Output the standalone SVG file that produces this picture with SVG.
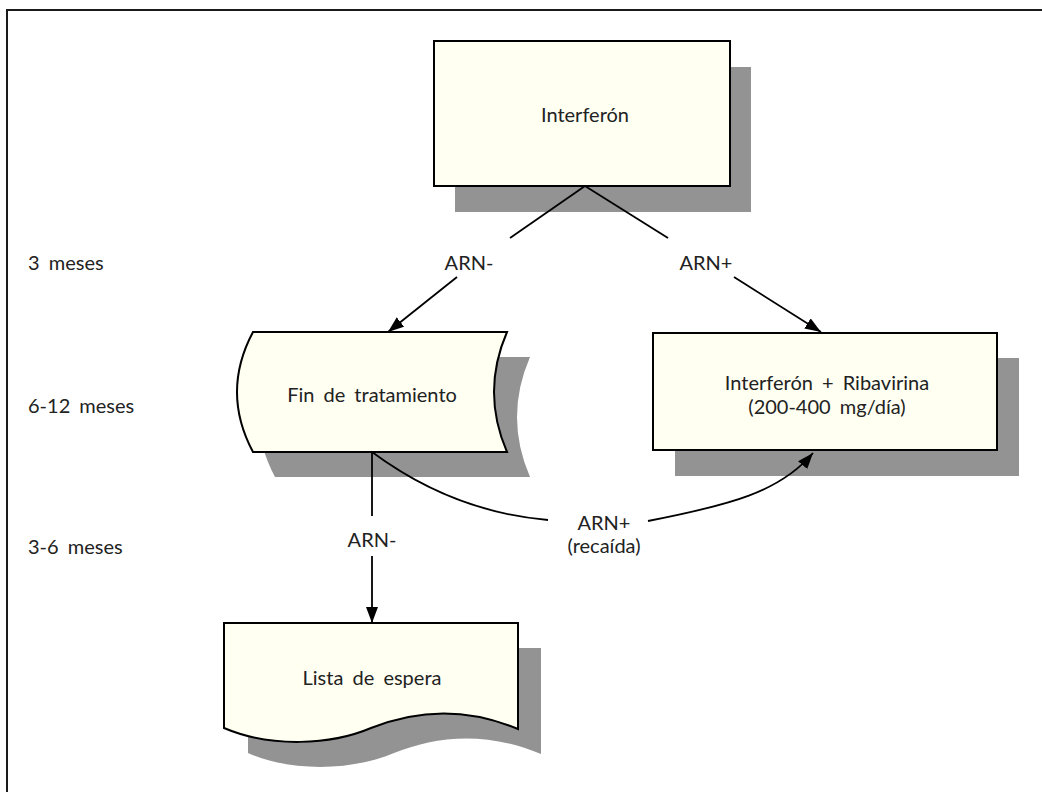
<svg xmlns="http://www.w3.org/2000/svg" width="1042" height="792" viewBox="0 0 1042 792">
  <defs>
    <style>
      .node { fill: #FFFFF2; stroke: #000; stroke-width: 2; }
      .shadow { fill: #939393; stroke: none; }
      .t { font-family: Lato, "Open Sans", sans-serif; font-size: 20px; fill: #222; text-anchor: middle; word-spacing: 4px; }
      .lbl { font-family: Lato, "Open Sans", sans-serif; font-size: 20px; fill: #222; word-spacing: 4px; }
      .edge { fill: none; stroke: #000; stroke-width: 1.8; }
    </style>
    <marker id="arrow" markerUnits="userSpaceOnUse" markerWidth="18" markerHeight="14" refX="16" refY="6" orient="auto">
      <path d="M0,0 L16,6 L0,12 Z" fill="#000"/>
    </marker>
  </defs>

  <rect width="1042" height="792" fill="#fff"/>
  <path d="M7,792 L7,10 L1042,10" fill="none" stroke="#1a1a1a" stroke-width="2"/>

  <g id="side-labels">
    <text class="lbl" x="28" y="270">3 meses</text>
    <text class="lbl" x="28" y="413">6-12 meses</text>
    <text class="lbl" x="28" y="554">3-6 meses</text>
  </g>

  <g id="node-interferon">
    <rect class="shadow" x="455" y="67" width="296" height="145"/>
    <rect class="node" x="434" y="41" width="296" height="145"/>
    <text class="t" x="585" y="122">Interferón</text>
  </g>

  <g id="node-fin">
    <path class="shadow" d="M275,357 L530,357 Q504,417 530,477 L275,477 Q243,417 275,357 Z"/>
    <path class="node" d="M253,332 L507,332 Q481,392 507,452 L253,452 Q221,392 253,332 Z"/>
    <text class="t" x="372" y="402">Fin de tratamiento</text>
  </g>

  <g id="node-ribavirina">
    <rect class="shadow" x="675" y="358" width="344" height="118"/>
    <rect class="node" x="653" y="333" width="344" height="117"/>
    <text class="t" x="827" y="390">Interferón + Ribavirina</text>
    <text class="t" x="827" y="414">(200-400 mg/día)</text>
  </g>

  <g id="node-lista">
    <path class="shadow" d="M248,648 L541,648 L541,754 C484,730 434,737 394,753 C354,770 294,773 248,753 Z"/>
    <path class="node" d="M224,623 L518,623 L518,729 C461,705 411,712 371,728 C331,745 271,748 224,728 Z"/>
    <text class="t" x="372" y="685">Lista de espera</text>
  </g>

  <g id="connectors">
    <path class="edge" d="M585,186 L510,238"/>
    <path class="edge" d="M457,277 L388,332" marker-end="url(#arrow)"/>
    <path class="edge" d="M585,186 L668,238"/>
    <path class="edge" d="M734,277 L821,332" marker-end="url(#arrow)"/>
    <path class="edge" d="M372,452 L372,516"/>
    <path class="edge" d="M372,556 L372,623" marker-end="url(#arrow)"/>
    <path class="edge" d="M372,452 C430,495 490,515 548,520"/>
    <path class="edge" d="M648,521 C730,505 780,492 813,453" marker-end="url(#arrow)"/>
    <text class="t" x="469" y="270">ARN-</text>
    <text class="t" x="706" y="270">ARN+</text>
    <text class="t" x="372" y="547">ARN-</text>
    <text class="t" x="604" y="530">ARN+</text>
    <text class="t" x="604" y="553">(recaída)</text>
  </g>
</svg>
